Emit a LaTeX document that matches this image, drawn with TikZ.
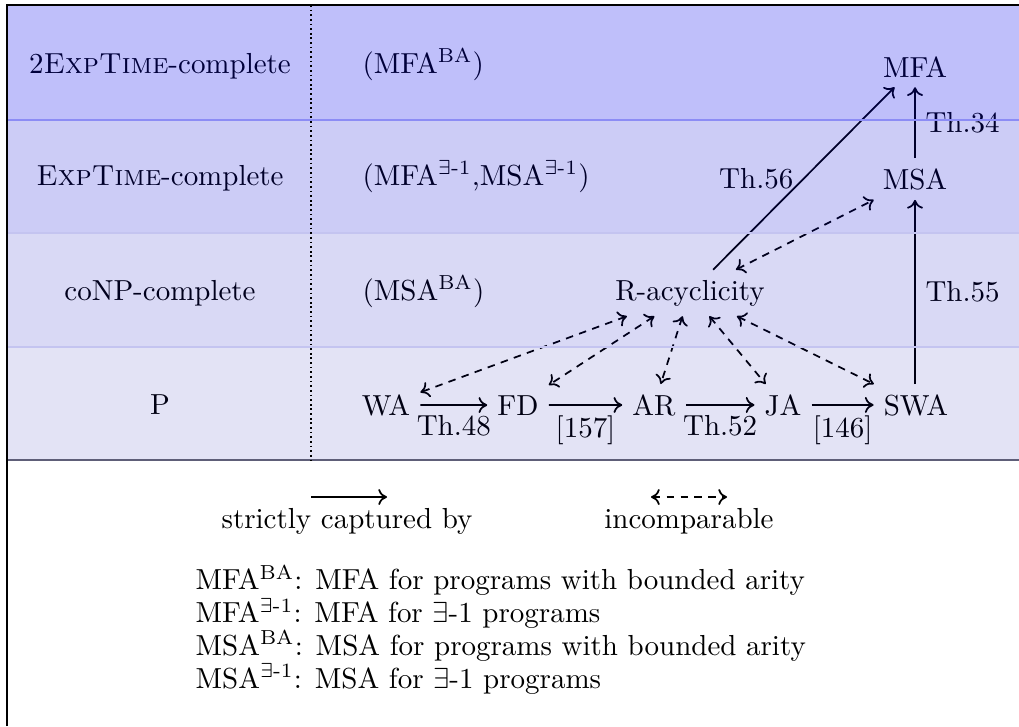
\documentclass[tikz,border=0pt]{standalone}
\usepackage{amsmath}
\usetikzlibrary{arrows.meta}
\definecolor{bandA}{RGB}{0,0,235}
\definecolor{bandB}{RGB}{0,0,210}
\definecolor{bandC}{RGB}{0,0,188}
\definecolor{bandD}{RGB}{0,0,164}
\definecolor{sepA}{RGB}{140,140,245}
\definecolor{sepB}{RGB}{196,196,240}
\definecolor{sepC}{RGB}{94,94,120}
\begin{document}
\begin{tikzpicture}[x=0.345pt,y=-0.345pt,
  cls/.style={inner sep=3.33pt},
  lbl/.style={anchor=base,inner sep=0pt},
  lblw/.style={anchor=base west,inner sep=0pt},
  captured/.style={-{To[length=3pt,width=5.5pt]},semithick},
  incomp/.style={{To[length=3pt,width=5.5pt]}-{To[length=3pt,width=5.5pt]},semithick,dash pattern=on 2.6pt off 2.2pt},
  thm/.style={inner sep=3.33pt}]
\useasboundingbox (0,0) rectangle (1019,726);

% complexity classes (left column)
\node[lbl] (c1) at (160,73) {2\textsc{ExpTime}-complete};
\node[lbl] (c2) at (160,185) {\textsc{ExpTime}-complete};
\node[lbl] (c3) at (160,300) {coNP-complete};
\node[lbl] (c4) at (160,414) {P};

% restricted variants
\node[lblw] (v1) at (362,73) {(MFA$^{\mathrm{BA}}$)};
\node[lblw] (v2) at (362,185) {(MFA$^{\exists\text{-}1}$,MSA$^{\exists\text{-}1}$)};
\node[lblw] (v3) at (362,300) {(MSA$^{\mathrm{BA}}$)};

% criteria
\node[cls,anchor=base] (mfa) at (915,77) {MFA};
\node[cls,anchor=base] (msa) at (915,189) {MSA};
\node[cls,anchor=base] (racy) at (690,300) {R-acyclicity};
\node[cls,anchor=base] (wa) at (386,415) {WA};
\node[cls,anchor=base] (fd) at (518,415) {FD};
\node[cls,anchor=base] (ar) at (654,415) {AR};
\node[cls,anchor=base] (ja) at (783,415) {JA};
\node[cls,anchor=base] (swa) at (916,415) {SWA};

% strict inclusions
\draw[captured] (wa) -- node[below,thm] {Th.48} (fd);
\draw[captured] (fd) -- node[below,thm] {[157]} (ar);
\draw[captured] (ar) -- node[below,thm] {Th.52} (ja);
\draw[captured] (ja) -- node[below,thm] {[146]} (swa);
\draw[captured] (swa.north -| msa.south) -- node[right,thm] {Th.55} (msa);
\draw[captured] (msa) -- node[right,thm] {Th.34} (mfa);
\draw[captured] (racy) -- node[left,thm] {Th.56} (mfa);

% incomparable pairs
\draw[incomp] (racy) -- (msa);
\draw[incomp] (racy) -- (wa);
\draw[incomp] (racy) -- (fd);
\draw[incomp] (racy) -- (ar);
\draw[incomp] (racy) -- (ja);
\draw[incomp] (racy) -- (swa);

% shaded complexity bands
\fill[bandA,fill opacity=0.25] (7,5) rectangle (1019,120);
\fill[bandB,fill opacity=0.20] (7,120) rectangle (1019,233);
\fill[bandC,fill opacity=0.15] (7,233) rectangle (1019,347);
\fill[bandD,fill opacity=0.11] (7,347) rectangle (1019,460);
\draw[sepA,semithick] (7,120) -- (1019,120);
\draw[sepB,thin] (7,233) -- (1019,233);
\draw[sepB,thin] (7,347) -- (1019,347);
\draw[sepC,line width=0.8pt] (7,460) -- (1019,460);
\draw[densely dotted,line width=0.6pt] (311,5) -- (311,460);
\draw[line width=0.6pt] (7,726) -- (7,5) -- (1019,5);

% legend
\coordinate (l1a) at (311,497);
\coordinate (l1b) at (387,497);
\coordinate (l2a) at (651,497);
\coordinate (l2b) at (727,497);
\draw[captured] (l1a) -- (l1b);
\draw[incomp] (l2a) -- (l2b);
\node[lbl] (t1) at (347,528) {strictly captured by};
\node[lbl] (t2) at (689,528) {incomparable};
\node[anchor=north west,inner sep=0pt,align=left,
      font=\fontsize{10pt}{11.3pt}\selectfont] (defs) at (195,565)
  {MFA$^{\mathrm{BA}}$: MFA for programs with bounded arity\\
   MFA$^{\exists\text{-}1}$: MFA for $\exists$-1 programs\\
   MSA$^{\mathrm{BA}}$: MSA for programs with bounded arity\\
   MSA$^{\exists\text{-}1}$: MSA for $\exists$-1 programs};
\end{tikzpicture}
\end{document}
